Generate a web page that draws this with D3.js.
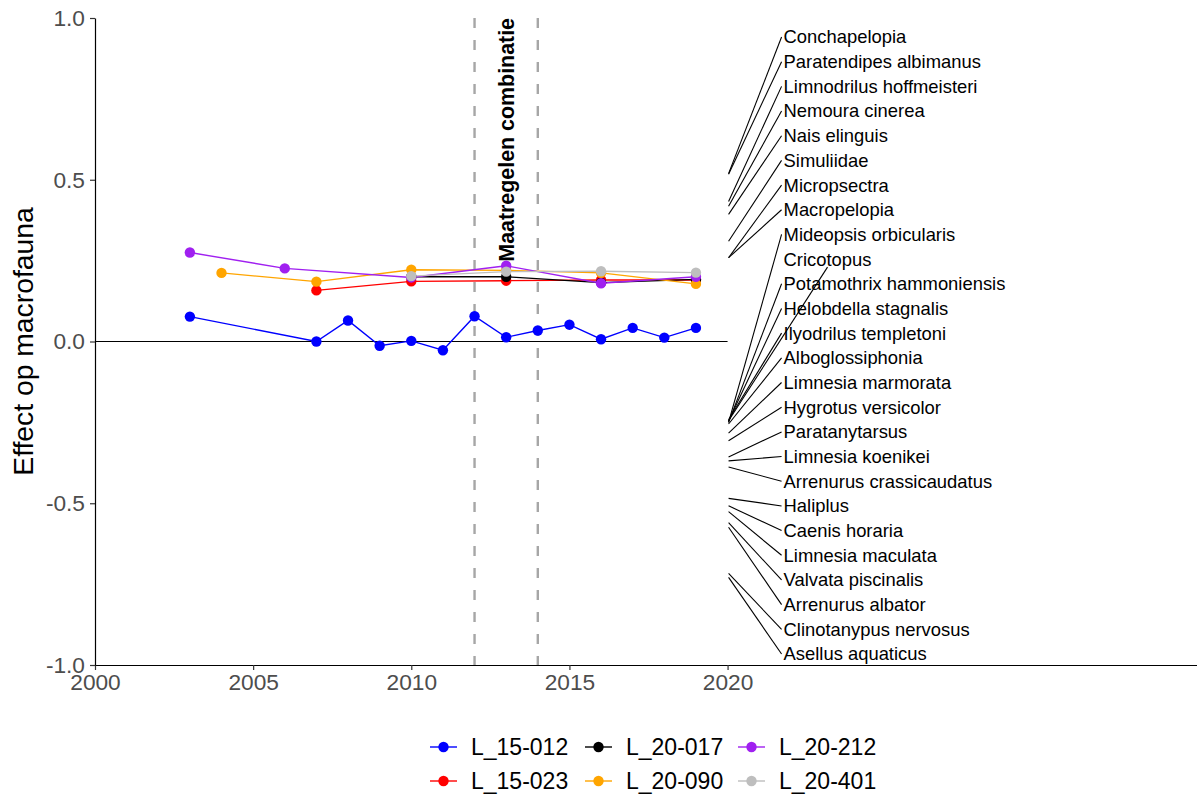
<!DOCTYPE html>
<html>
<head>
<meta charset="utf-8">
<script src="https://cdn.jsdelivr.net/npm/d3@7"></script>
<style>
  body { margin: 0; background: #fff; }
  svg { display: block; font-family: "Liberation Sans", Arial, sans-serif; }
</style>
</head>
<body>
<svg id="chart" width="1197" height="794"></svg>
<script>
// ---- data -------------------------------------------------------------
const seriesNames  = ["L_15-012", "L_15-023", "L_20-017", "L_20-090", "L_20-212", "L_20-401"];
const seriesColors = ["#0000FF", "#FF0000", "#000000", "#FFA500", "#A020F0", "#BEBEBE"];

const years_L15_012  = [2003, 2007, 2008, 2009, 2010, 2011, 2012, 2013, 2014, 2015, 2016, 2017, 2018, 2019];
const effect_L15_012 = [0.077, 0.0, 0.065, -0.013, 0.002, -0.027, 0.078, 0.013, 0.034, 0.052, 0.007, 0.042, 0.012, 0.042];

const years_L15_023  = [2007, 2010, 2013, 2016, 2019];
const effect_L15_023 = [0.158, 0.186, 0.188, 0.19, 0.19];

const years_L20_017  = [2010, 2013, 2016, 2019];
const effect_L20_017 = [0.2, 0.2, 0.182, 0.192];

const years_L20_090  = [2004, 2007, 2010, 2013, 2016, 2019];
const effect_L20_090 = [0.212, 0.185, 0.222, 0.22, 0.212, 0.178];

const years_L20_212  = [2003, 2006, 2010, 2013, 2016, 2019];
const effect_L20_212 = [0.275, 0.226, 0.198, 0.234, 0.18, 0.2];

const years_L20_401  = [2010, 2013, 2016, 2019];
const effect_L20_401 = [0.202, 0.216, 0.217, 0.213];

const seriesYears   = [years_L15_012, years_L15_023, years_L20_017, years_L20_090, years_L20_212, years_L20_401];
const seriesEffects = [effect_L15_012, effect_L15_023, effect_L20_017, effect_L20_090, effect_L20_212, effect_L20_401];

// taxa with their effect, labelled at 2020
const taxa = ["Conchapelopia", "Paratendipes albimanus", "Limnodrilus hoffmeisteri", "Nemoura cinerea",
  "Nais elinguis", "Simuliidae", "Micropsectra", "Macropelopia", "Mideopsis orbicularis", "Cricotopus",
  "Potamothrix hammoniensis", "Helobdella stagnalis", "Ilyodrilus templetoni", "Alboglossiphonia",
  "Limnesia marmorata", "Hygrotus versicolor", "Paratanytarsus", "Limnesia koenikei",
  "Arrenurus crassicaudatus", "Haliplus", "Caenis horaria", "Limnesia maculata", "Valvata piscinalis",
  "Arrenurus albator", "Clinotanypus nervosus", "Asellus aquaticus"];
const taxaEffect = [0.519, 0.517, 0.433, 0.418, 0.393, 0.31, 0.259, 0.259, -0.25, -0.245,
  -0.25, -0.246, -0.242, -0.255, -0.283, -0.307, -0.357, -0.369,
  -0.388, -0.485, -0.508, -0.526, -0.56, -0.574, -0.717, -0.729];
const taxaYear = 2020;

const xTicks = [2000, 2005, 2010, 2015, 2020];
const yTicks = [-1, -0.5, 0, 0.5, 1];
const measureYears = [2012, 2014];
const measureLabel = "Maatregelen combinatie";
const measureLabelYear = 2013;
const yTitle = "Effect op macrofauna";

// ---- layout -----------------------------------------------------------
const svg = d3.select("#chart");
const x = d3.scaleLinear().domain([2000, 2035]).range([95, 1202]);
const y = d3.scaleLinear().domain([-1, 1]).range([665, 18]);

// measure period (dashed verticals)
svg.append("g").selectAll("line").data(measureYears).join("line")
  .attr("x1", d => x(d)).attr("x2", d => x(d))
  .attr("y1", y(1)).attr("y2", y(-1))
  .attr("stroke", "#a6a6a6").attr("stroke-width", 2.4)
  .attr("stroke-dasharray", "10,12");

svg.append("text")
  .attr("transform", `translate(${x(measureLabelYear)},${y(1)}) rotate(-90)`)
  .attr("text-anchor", "end").attr("dy", "0.35em")
  .attr("font-weight", "bold").attr("font-size", 21.4)
  .attr("fill", "#000").text(measureLabel);

// zero reference
svg.append("line")
  .attr("x1", x(2000)).attr("x2", x(2020))
  .attr("y1", y(0)).attr("y2", y(0))
  .attr("stroke", "#000").attr("stroke-width", 1.2);

// axes
const xAxis = svg.append("g").attr("transform", `translate(0,${y(-1)})`)
  .call(d3.axisBottom(x).tickValues(xTicks).tickFormat(d3.format("d")).tickSize(5).tickSizeOuter(0));
const yAxis = svg.append("g").attr("transform", `translate(${x(2000)},0)`)
  .call(d3.axisLeft(y).tickValues(yTicks).tickFormat(d => d.toFixed(1)).tickSize(5).tickSizeOuter(0));
[xAxis, yAxis].forEach(g => {
  g.select(".domain").attr("stroke", "#000").attr("stroke-width", 1.2);
  g.selectAll(".tick line").attr("stroke", "#333").attr("stroke-width", 1.2);
  g.selectAll(".tick text").attr("fill", "#4d4d4d").attr("font-size", 22.7)
    .attr("font-family", "'Liberation Sans', Arial, sans-serif");
});
xAxis.selectAll(".tick text").attr("y", 9).attr("dy", "0.71em");
yAxis.selectAll(".tick text").attr("x", -10);

svg.append("text")
  .attr("transform", `translate(33,${y(0)}) rotate(-90)`)
  .attr("text-anchor", "middle")
  .attr("font-size", 28.3).attr("fill", "#000").text(yTitle);

// series lines then points
const line = d3.line().x(d => x(d[0])).y(d => y(d[1]));
const seriesData = seriesNames.map((name, i) => ({
  name, color: seriesColors[i],
  pts: seriesYears[i].map((yr, j) => [yr, seriesEffects[i][j]])
}));
svg.append("g").selectAll("path").data(seriesData).join("path")
  .attr("d", d => line(d.pts)).attr("fill", "none")
  .attr("stroke", d => d.color).attr("stroke-width", 1.4);
const ptG = svg.append("g");
seriesData.forEach(s => {
  ptG.selectAll(null).data(s.pts).join("circle")
    .attr("cx", d => x(d[0])).attr("cy", d => y(d[1])).attr("r", 5.2)
    .attr("fill", s.color);
});

// taxa labels with connectors
const labelX = x(taxaYear) + 56;
const labelTop = 37, labelBottom = 654;
const labelStep = (labelBottom - labelTop) / (taxa.length - 1);
const bottomAttached = new Set(["Cricotopus"]);
const labG = svg.append("g");
const segG = labG.append("g");
taxa.forEach((name, i) => {
  const ly = labelTop + i * labelStep;
  const t = labG.append("text")
    .attr("x", labelX).attr("y", ly).attr("dy", "0.35em")
    .attr("font-size", 18.4).attr("fill", "#000").text(name);
  let sx = labelX - 2, sy = ly;
  if (bottomAttached.has(name)) {
    sx = labelX + t.node().getComputedTextLength() / 2;
    sy = ly + 8;
  }
  segG.append("line")
    .attr("x1", x(taxaYear) + 1).attr("y1", y(taxaEffect[i]))
    .attr("x2", sx).attr("y2", sy)
    .attr("stroke", "#000").attr("stroke-width", 1.1);
});

// legend (two rows, filled by column)
const legCols = [430, 585, 738];
const legRows = [747, 781];
const legG = svg.append("g");
seriesData.forEach((s, i) => {
  const col = Math.floor(i / 2), row = i % 2;
  const lx = legCols[col], ly = legRows[row];
  const g = legG.append("g").attr("transform", `translate(${lx},${ly})`);
  g.append("line").attr("x1", 0).attr("x2", 27).attr("y1", 0).attr("y2", 0)
    .attr("stroke", s.color).attr("stroke-width", 1.4);
  g.append("circle").attr("cx", 13.5).attr("cy", 0).attr("r", 5.2).attr("fill", s.color);
  g.append("text").attr("x", 41).attr("y", 0).attr("dy", "0.36em")
    .attr("font-size", 23).attr("fill", "#000").text(s.name);
});
</script>
</body>
</html>
